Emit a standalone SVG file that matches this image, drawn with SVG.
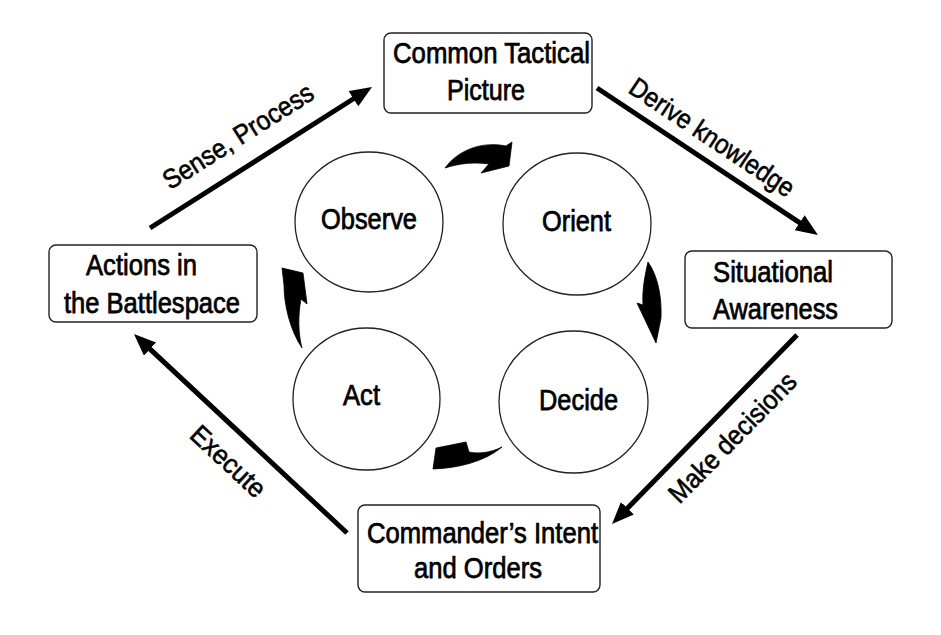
<svg xmlns="http://www.w3.org/2000/svg" width="941" height="635" viewBox="0 0 941 635">
  <defs>
    <style>
      .box { fill: #fff; stroke: #222; stroke-width: 1.4; }
      .circ { fill: #fff; stroke: #222; stroke-width: 1.3; }
      .t { font-family: "Liberation Sans", Arial, Helvetica, sans-serif; font-size: 29px; fill: #000; stroke: #000; stroke-width: 0.75; }
      .lbl { font-family: "Liberation Sans", Arial, Helvetica, sans-serif; font-size: 27px; fill: #000; stroke: #000; stroke-width: 0.6; }
      .conn { stroke: #000; stroke-width: 5; fill: none; marker-end: url(#head); }
      .swoosh { fill: #000; stroke: #000; stroke-width: 0.8; stroke-linejoin: round; }
    </style>
    <marker id="head" viewBox="0 0 22 18" refX="8" refY="9" markerWidth="22" markerHeight="18" markerUnits="userSpaceOnUse" orient="auto">
      <path d="M0,0 L22,9 L0,18 Z" fill="#000"/>
    </marker>
  </defs>
  <rect width="941" height="635" fill="#fff"/>

  <g id="connectors">
    <line class="conn" x1="150" y1="228" x2="360.2" y2="94.5"/>
    <line class="conn" x1="597" y1="88" x2="806.3" y2="227.2"/>
    <line class="conn" x1="797" y1="335" x2="621.8" y2="514"/>
    <line class="conn" x1="347" y1="533" x2="144.2" y2="343.6"/>
    <text class="lbl" text-anchor="middle" textLength="173" lengthAdjust="spacingAndGlyphs" transform="translate(243,144) rotate(-32.4)">Sense, Process</text>
    <text class="lbl" text-anchor="middle" textLength="192" lengthAdjust="spacingAndGlyphs" transform="translate(707,145) rotate(33.6)">Derive knowledge</text>
    <text class="lbl" text-anchor="middle" textLength="170" lengthAdjust="spacingAndGlyphs" transform="translate(739,444) rotate(-45.6)">Make decisions</text>
    <text class="lbl" text-anchor="middle" textLength="92" lengthAdjust="spacingAndGlyphs" transform="translate(222,468) rotate(43)">Execute</text>
    <path class="swoosh" d="M445,168 C458,150 482,141 506,146 L512,142 L509,166 L481,173 L489,164 C475,162 460,163 445,168 Z"/>
    <path class="swoosh" d="M648,262 C658,276 662,298 661,318 L656,343 L637,303 L643,305 C642,290 645,275 648,262 Z"/>
    <path class="swoosh" d="M502,447 C490,453 478,454 469,452 L466,442 L436,448 L433,469 C458,468 484,462 502,447 Z"/>
    <path class="swoosh" d="M302,348 C290,330 284,305 284,285 L282,268 L303,273 L307,304 L301,299 C298,315 298,333 302,348 Z"/>
  </g>

  <g id="node-common-tactical-picture">
    <rect class="box" x="384" y="33" width="208" height="80" rx="7"/>
    <text class="t" x="393" y="63" textLength="197" lengthAdjust="spacingAndGlyphs">Common Tactical</text>
    <text class="t" x="447" y="100" textLength="78" lengthAdjust="spacingAndGlyphs">Picture</text>
  </g>
  <g id="node-actions">
    <rect class="box" x="49" y="245" width="208" height="77" rx="7"/>
    <text class="t" x="86" y="275" textLength="111" lengthAdjust="spacingAndGlyphs">Actions in</text>
    <text class="t" x="64" y="313" textLength="176" lengthAdjust="spacingAndGlyphs">the Battlespace</text>
  </g>
  <g id="node-situational-awareness">
    <rect class="box" x="685" y="251" width="207" height="77" rx="7"/>
    <text class="t" x="713" y="282" textLength="120" lengthAdjust="spacingAndGlyphs">Situational</text>
    <text class="t" x="713" y="319" textLength="125" lengthAdjust="spacingAndGlyphs">Awareness</text>
  </g>
  <g id="node-commanders-intent">
    <rect class="box" x="358" y="505" width="242" height="87" rx="7"/>
    <text class="t" x="367" y="543" textLength="231" lengthAdjust="spacingAndGlyphs">Commander’s Intent</text>
    <text class="t" x="414" y="578" textLength="128" lengthAdjust="spacingAndGlyphs">and Orders</text>
  </g>
  <g id="node-observe">
    <ellipse class="circ" cx="369" cy="222" rx="74" ry="70"/>
    <text class="t" x="321" y="229" textLength="96" lengthAdjust="spacingAndGlyphs">Observe</text>
  </g>
  <g id="node-orient">
    <ellipse class="circ" cx="577" cy="224" rx="74" ry="71"/>
    <text class="t" x="542" y="231" textLength="69" lengthAdjust="spacingAndGlyphs">Orient</text>
  </g>
  <g id="node-act">
    <ellipse class="circ" cx="366.5" cy="399" rx="73.5" ry="71"/>
    <text class="t" x="343" y="405" textLength="37" lengthAdjust="spacingAndGlyphs">Act</text>
  </g>
  <g id="node-decide">
    <ellipse class="circ" cx="573.5" cy="402" rx="74.5" ry="71"/>
    <text class="t" x="539" y="410" textLength="79" lengthAdjust="spacingAndGlyphs">Decide</text>
  </g>
</svg>
